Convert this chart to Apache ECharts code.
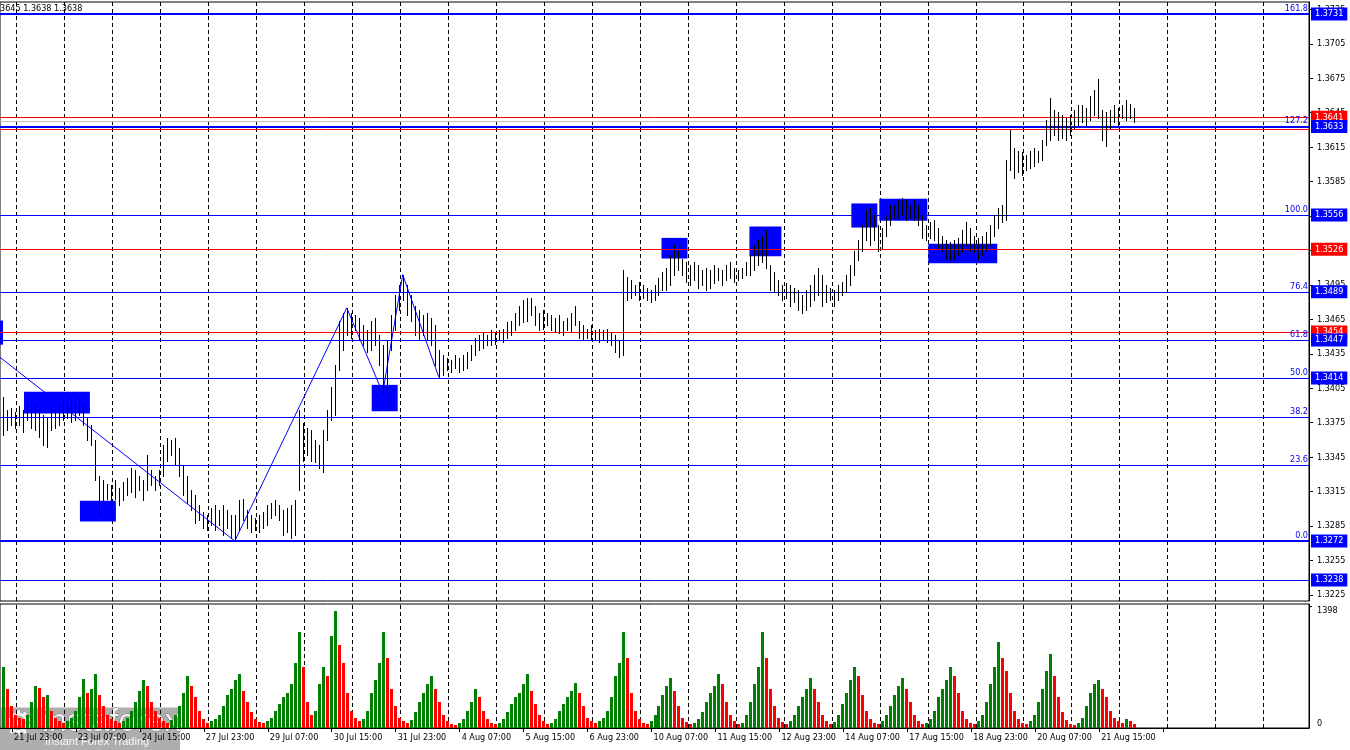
<!DOCTYPE html>
<html><head><meta charset="utf-8">
<script src="https://cdn.jsdelivr.net/npm/echarts/dist/echarts.min.js"></script>
<style>html,body{margin:0;padding:0;background:#fff;overflow:hidden}#c{width:1350px;height:750px}</style>
</head><body><div id="c"></div><script>
// ---- data (2-hour bars) ----
const highs = [
1.3397,1.3386,1.3388,1.3384,1.3390,1.3386,1.3392,1.3386,1.3390,1.3386,
1.3382,1.3379,1.3388,1.3386,1.3390,1.3395,1.3392,1.3396,1.3392,1.3396,
1.3390,1.3379,1.3373,1.3360,1.3329,1.3325,1.3322,1.3321,1.3325,1.3318,
1.3323,1.3327,1.3336,1.3334,1.3329,1.3325,1.3347,1.3334,1.3329,1.3334,
1.3356,1.3362,1.3360,1.3362,1.3353,1.3338,1.3329,1.3316,1.3312,1.3303,
1.3297,1.3295,1.3301,1.3303,1.3299,1.3303,1.3299,1.3295,1.3295,1.3308,
1.3309,1.3299,1.3295,1.3292,1.3295,1.3297,1.3303,1.3305,1.3308,1.3303,
1.3299,1.3301,1.3303,1.3308,1.3386,1.3375,1.3370,1.3369,1.3360,1.3356,
1.3369,1.3386,1.3406,1.3425,1.3464,1.3471,1.3475,1.3471,1.3469,1.3466,
1.3460,1.3456,1.3464,1.3466,1.3451,1.3443,1.3447,1.3469,1.3486,1.3495,
1.3504,1.3495,1.3486,1.3477,1.3473,1.3469,1.3471,1.3466,1.3460,1.3438,
1.3434,1.3431,1.3430,1.3434,1.3431,1.3434,1.3437,1.3443,1.3449,1.3451,
1.3454,1.3451,1.3456,1.3454,1.3456,1.3457,1.3463,1.3464,1.3471,1.3477,
1.3482,1.3484,1.3484,1.3477,1.3471,1.3473,1.3471,1.3469,1.3466,1.3469,
1.3464,1.3466,1.3471,1.3477,1.3464,1.3460,1.3457,1.3460,1.3456,1.3457,
1.3456,1.3457,1.3454,1.3451,1.3447,1.3508,1.3502,1.3499,1.3495,1.3498,
1.3495,1.3492,1.3491,1.3495,1.3501,1.3506,1.3510,1.3521,1.3530,1.3525,
1.3518,1.3515,1.3512,1.3515,1.3512,1.3508,1.3510,1.3508,1.3512,1.3510,
1.3508,1.3512,1.3515,1.3510,1.3508,1.3510,1.3515,1.3521,1.3530,1.3534,
1.3538,1.3543,1.3512,1.3506,1.3499,1.3495,1.3497,1.3495,1.3492,1.3491,
1.3486,1.3491,1.3495,1.3504,1.3510,1.3504,1.3495,1.3492,1.3491,1.3495,
1.3498,1.3504,1.3512,1.3525,1.3534,1.3547,1.3560,1.3562,1.3556,1.3547,
1.3545,1.3556,1.3565,1.3565,1.3569,1.3571,1.3569,1.3565,1.3569,1.3565,
1.3556,1.3547,1.3550,1.3552,1.3545,1.3538,1.3534,1.3532,1.3534,1.3536,
1.3543,1.3550,1.3545,1.3538,1.3536,1.3538,1.3541,1.3547,1.3556,1.3562,
1.3565,1.3604,1.3630,1.3614,1.3612,1.3611,1.3608,1.3612,1.3614,1.3612,
1.3621,1.3639,1.3658,1.3647,1.3646,1.3643,1.3640,1.3643,1.3647,1.3652,
1.3652,1.3649,1.3660,1.3665,1.3674,1.3647,1.3646,1.3647,1.3652,1.3649,
1.3652,1.3656,1.3653,1.3649];
const lows = [
1.3364,1.3369,1.3373,1.3370,1.3373,1.3367,1.3377,1.3370,1.3369,1.3363,
1.3356,1.3354,1.3369,1.3370,1.3373,1.3377,1.3379,1.3376,1.3377,1.3382,
1.3373,1.3360,1.3356,1.3325,1.3296,1.3308,1.3309,1.3306,1.3309,1.3303,
1.3308,1.3312,1.3315,1.3310,1.3316,1.3308,1.3316,1.3321,1.3316,1.3321,
1.3329,1.3342,1.3347,1.3338,1.3329,1.3312,1.3305,1.3299,1.3288,1.3290,
1.3283,1.3282,1.3286,1.3282,1.3286,1.3277,1.3283,1.3275,1.3272,1.3282,
1.3290,1.3283,1.3280,1.3282,1.3280,1.3283,1.3286,1.3292,1.3295,1.3290,
1.3277,1.3280,1.3275,1.3277,1.3316,1.3342,1.3347,1.3342,1.3341,1.3336,
1.3332,1.3360,1.3377,1.3382,1.3421,1.3438,1.3451,1.3449,1.3456,1.3447,
1.3443,1.3437,1.3438,1.3443,1.3425,1.3401,1.3403,1.3438,1.3456,1.3473,
1.3482,1.3469,1.3464,1.3451,1.3447,1.3451,1.3447,1.3443,1.3425,1.3415,
1.3417,1.3421,1.3419,1.3423,1.3419,1.3421,1.3423,1.3430,1.3434,1.3438,
1.3440,1.3443,1.3443,1.3444,1.3447,1.3445,1.3449,1.3451,1.3456,1.3460,
1.3463,1.3464,1.3469,1.3460,1.3456,1.3457,1.3460,1.3456,1.3454,1.3453,
1.3451,1.3456,1.3454,1.3460,1.3449,1.3447,1.3449,1.3447,1.3447,1.3445,
1.3447,1.3445,1.3443,1.3437,1.3432,1.3434,1.3482,1.3484,1.3486,1.3482,
1.3484,1.3482,1.3480,1.3482,1.3486,1.3491,1.3491,1.3495,1.3504,1.3508,
1.3504,1.3498,1.3495,1.3499,1.3492,1.3495,1.3491,1.3492,1.3497,1.3499,
1.3495,1.3499,1.3501,1.3498,1.3499,1.3501,1.3504,1.3504,1.3508,1.3512,
1.3515,1.3510,1.3491,1.3489,1.3486,1.3482,1.3484,1.3477,1.3480,1.3473,
1.3471,1.3473,1.3477,1.3482,1.3486,1.3477,1.3480,1.3482,1.3477,1.3482,
1.3486,1.3489,1.3495,1.3504,1.3517,1.3525,1.3534,1.3530,1.3534,1.3525,
1.3527,1.3538,1.3547,1.3553,1.3553,1.3556,1.3552,1.3553,1.3552,1.3547,
1.3536,1.3534,1.3536,1.3534,1.3527,1.3525,1.3518,1.3517,1.3518,1.3521,
1.3524,1.3530,1.3525,1.3524,1.3518,1.3521,1.3525,1.3530,1.3538,1.3545,
1.3550,1.3552,1.3595,1.3588,1.3593,1.3591,1.3595,1.3597,1.3599,1.3602,
1.3604,1.3617,1.3621,1.3626,1.3621,1.3623,1.3621,1.3626,1.3632,1.3634,
1.3637,1.3634,1.3639,1.3643,1.3640,1.3621,1.3616,1.3632,1.3637,1.3634,
1.3640,1.3639,1.3640,1.3637];
const volumes = [
700,450,250,150,120,100,150,300,480,460,
350,380,200,120,80,60,80,120,200,350,
560,400,450,620,380,250,150,100,80,60,
80,120,200,300,420,550,480,300,200,120,
80,60,90,150,250,400,600,480,350,200,
100,60,80,100,150,250,380,450,550,620,
420,300,180,100,70,60,80,120,200,280,
350,400,500,750,1100,700,300,150,200,500,
700,600,1050,1340,950,750,400,200,120,80,
100,200,400,550,750,1100,800,450,250,120,
80,60,90,180,300,400,500,600,450,300,
150,80,50,40,60,100,200,300,450,350,
200,100,60,50,60,100,180,280,350,400,
500,620,420,280,150,80,50,60,100,200,
280,350,420,520,400,250,120,80,60,80,
120,200,350,600,750,1100,800,400,200,100,
60,50,80,150,250,380,480,570,420,250,
120,70,50,60,100,180,300,400,480,620,
500,300,150,80,50,60,150,300,500,700,
1100,800,450,250,120,70,50,80,150,250,
350,450,570,450,300,150,80,50,70,150,
280,400,550,700,600,380,200,100,60,50,
80,150,250,380,480,570,450,300,150,80,
50,60,100,200,350,450,550,700,600,400,
200,100,60,50,80,150,300,500,700,980,
800,650,400,200,100,60,50,80,150,300,
450,650,850,600,350,180,90,50,40,60,
120,250,400,500,550,450,350,200,120,80,
60,100,80,50];
const timeLabels = ['21 Jul 23:00','23 Jul 07:00','24 Jul 15:00','27 Jul 23:00','29 Jul 07:00','30 Jul 15:00',
 '31 Jul 23:00','4 Aug 07:00','5 Aug 15:00','6 Aug 23:00','10 Aug 07:00','11 Aug 15:00','12 Aug 23:00',
 '14 Aug 07:00','17 Aug 15:00','18 Aug 23:00','20 Aug 07:00','21 Aug 15:00'];
const priceTicks = [1.3225,1.3255,1.3285,1.3315,1.3345,1.3375,1.3405,1.3435,1.3465,1.3495,1.3525,1.3555,1.3585,1.3615,1.3645,1.3675,1.3705,1.3735];
const volumeTicks = [0, 1398];
const fibPrices = [1.3731,1.3633,1.3556,1.3489,1.3447,1.3414,1.3380,1.3338,1.3272];
const fibLabels = ['161.8','127.2','100.0','76.4','61.8','50.0','38.2','23.6','0.0'];
const redPrices = [1.3641,1.3631,1.3526,1.3454];
const bluePrices = [1.3238];
const bidPrice = 1.3638;
const tagPrices = [1.3731,1.3641,1.3633,1.3556,1.3526,1.3489,1.3454,1.3447,1.3414,1.3272,1.3238];
const thickPrices = [1.3731,1.3633,1.3272];
const zoneX1 = [-0.75,5.25,19.25,92.25,164.75,186.75,212.25,219.25,231.5];
const zoneX2 = [0,21.75,28.25,98.75,171.25,194.75,218.75,231.25,248.75];
const zoneTop = [1.3464,1.3402,1.3307,1.3408,1.3536,1.3546,1.3566,1.3570,1.3531];
const zoneBottom = [1.3443,1.3383,1.3289,1.3385,1.3518,1.3520,1.3545,1.3551,1.3514];
const trendX = [-0.75,58,86,95,100,109];
const trendY = [1.3432,1.3272,1.3475,1.3401,1.3504,1.3415];
const headerText = '3645 1.3638 1.3638';

// ---- layout ----
const XMIN = -0.75, XMAX = 326.75;
const FONT = '"DejaVu Sans Condensed","Liberation Sans",sans-serif';
const FS = 9;
const BLUE = '#0000ff', RED = '#ff0000';
const gridPos = []; for (let k = 0; k < 28; k++) gridPos.push(3.375 + 12 * k);
const labelPos = timeLabels.map((t, k) => 2.25 + 16 * k);
const tickPos = labelPos.concat([2.25 + 16 * timeLabels.length]);
const labelMap = new Map(labelPos.map((p, k) => [p, timeLabels[k]]));

const barData = highs.map((h, i) => [i, h, lows[i]]);
const volData = volumes.map((v, i) => [i, v, (i === 0 || v >= volumes[i - 1]) ? 1 : 0]);

const vGrid = gridPos.map(v => ({ xAxis: v }));
const zoneData = zoneX1.map((x, k) => [{ xAxis: x, yAxis: zoneTop[k] }, { xAxis: zoneX2[k], yAxis: zoneBottom[k] }]);

function tagLabel(p, color) {
  return { show: true, position: 'end', distance: 2, formatter: p.toFixed(4), color: '#fff',
    backgroundColor: color, padding: [1, 4, 1, 4], lineHeight: 11, fontSize: FS, fontFamily: FONT };
}
const levelData = [];
redPrices.forEach(p => levelData.push({ yAxis: p, lineStyle: { color: RED, width: 1, type: 'solid' },
  label: tagPrices.includes(p) ? tagLabel(p, RED) : { show: false } }));
levelData.push({ yAxis: bidPrice, lineStyle: { color: '#c0c0c0', width: 1, type: 'solid' }, label: { show: false } });
fibPrices.concat(bluePrices).forEach(p => levelData.push({ yAxis: p,
  lineStyle: { color: BLUE, width: thickPrices.includes(p) ? 2 : 1, type: 'solid' },
  label: tagPrices.includes(p) ? tagLabel(p, BLUE) : { show: false } }));
fibPrices.forEach((p, k) => levelData.push({ yAxis: p, lineStyle: { color: BLUE, width: thickPrices.includes(p) ? 2 : 1, type: 'solid' },
  label: { show: true, position: 'insideEndTop', distance: 1, formatter: fibLabels[k], color: BLUE, fontSize: FS, fontFamily: FONT } }));

const chart = echarts.init(document.getElementById('c'), null, { renderer: 'canvas' });
const option = {
  animation: false,
  backgroundColor: '#fff',
  textStyle: { fontFamily: FONT },
  grid: [
    { left: -1, top: 2, width: 1310, height: 599, show: true, borderColor: '#000', borderWidth: 1, backgroundColor: 'transparent' },
    { left: -1, top: 604, width: 1310, height: 124, show: true, borderColor: '#000', borderWidth: 1, backgroundColor: 'transparent' }
  ],
  xAxis: [
    { type: 'value', gridIndex: 0, min: XMIN, max: XMAX, show: false },
    { type: 'value', gridIndex: 1, min: XMIN, max: XMAX, splitLine: { show: false },
      axisLine: { show: true, onZero: false, lineStyle: { color: '#000' } },
      axisTick: { show: true, customValues: tickPos, length: 4, lineStyle: { color: '#000' } },
      axisLabel: { customValues: labelPos, formatter: v => labelMap.get(v) || '', align: 'left', margin: 5,
        padding: [0, 0, 0, 2], color: '#000', fontSize: FS, fontFamily: FONT } }
  ],
  yAxis: [
    { type: 'value', gridIndex: 0, position: 'right', min: 1.321974, max: 1.374145, splitLine: { show: false },
      axisLine: { show: true, onZero: false, lineStyle: { color: '#000' } },
      axisTick: { show: true, customValues: priceTicks, length: 4, lineStyle: { color: '#000' } },
      axisLabel: { customValues: priceTicks, formatter: v => v.toFixed(4), margin: 8, color: '#000', fontSize: FS, fontFamily: FONT } },
    { type: 'value', gridIndex: 1, position: 'right', min: 0, max: 1421, splitLine: { show: false },
      axisLine: { show: true, onZero: false, lineStyle: { color: '#000' } },
      axisTick: { show: true, customValues: [volumeTicks[1]], length: 3, lineStyle: { color: '#000' } },
      axisLabel: { customValues: [volumeTicks[1]], formatter: v => String(Math.round(v)), verticalAlign: 'top', margin: 8, color: '#000', fontSize: FS, fontFamily: FONT } },
    { type: 'value', gridIndex: 1, position: 'right', min: 0, max: 1421, splitLine: { show: false },
      axisLine: { show: false },
      axisTick: { show: true, customValues: [volumeTicks[0]], length: 3, lineStyle: { color: '#000' } },
      axisLabel: { customValues: [volumeTicks[0]], formatter: v => String(Math.round(v)), verticalAlign: 'bottom', margin: 8, color: '#000', fontSize: FS, fontFamily: FONT } }
  ],
  series: [
    { type: 'line', xAxisIndex: 0, yAxisIndex: 0, data: [], silent: true,
      markLine: { silent: true, z: 2, precision: 4, symbol: ['none', 'none'], animation: false, label: { show: false },
        lineStyle: { color: '#000', width: 1, type: [4, 3] }, emphasis: { disabled: true }, data: vGrid } },
    { type: 'line', xAxisIndex: 1, yAxisIndex: 1, data: [], silent: true,
      markLine: { silent: true, z: 2, precision: 4, symbol: ['none', 'none'], animation: false, label: { show: false },
        lineStyle: { color: '#000', width: 1, type: [4, 3] }, emphasis: { disabled: true }, data: vGrid } },
    { type: 'line', xAxisIndex: 0, yAxisIndex: 0, data: [], silent: true,
      markArea: { silent: true, z: 3, precision: 4, itemStyle: { color: BLUE, opacity: 1 }, label: { show: false }, emphasis: { disabled: true }, data: zoneData } },
    { type: 'line', xAxisIndex: 0, yAxisIndex: 0, data: [], silent: true,
      markLine: { silent: true, z: 4, precision: 4, symbol: ['none', 'none'], animation: false, emphasis: { disabled: true }, data: levelData } },
    { type: 'line', xAxisIndex: 0, yAxisIndex: 0, z: 5, silent: true, symbol: 'none', clip: true,
      lineStyle: { color: BLUE, width: 1 }, data: trendX.map((x, k) => [x, trendY[k]]) },
    { type: 'custom', xAxisIndex: 0, yAxisIndex: 0, z: 10, silent: true, clip: true,
      encode: { x: 0, y: [1, 2] }, data: barData,
      renderItem: (params, api) => {
        const a = api.coord([api.value(0), api.value(1)]);
        const b = api.coord([api.value(0), api.value(2)]);
        const x = Math.round(a[0]) + 0.5;
        return { type: 'line', shape: { x1: x, y1: Math.round(a[1]), x2: x, y2: Math.round(b[1]) + 1 },
          style: { stroke: '#000', lineWidth: 1 } };
      } },
    { type: 'custom', xAxisIndex: 1, yAxisIndex: 1, z: 10, silent: true, clip: true,
      encode: { x: 0, y: 1 }, data: volData,
      renderItem: (params, api) => {
        const a = api.coord([api.value(0), api.value(1)]);
        const b = api.coord([api.value(0), 0]);
        const x = Math.round(a[0]) - 1;
        return { type: 'rect', shape: { x: x, y: Math.round(a[1]), width: 3, height: Math.round(b[1]) - Math.round(a[1]) },
          style: { fill: api.value(2) ? '#008000' : '#ff0000' } };
      } }
  ],
  graphic: [
    { type: 'text', left: 0, top: 4, z: 50, style: { text: headerText, fill: '#000', font: FS + 'px ' + FONT } },
    { type: 'group', left: 0, top: 706, z: 100, children: [
      { type: 'rect', shape: { x: 0, y: 0, width: 180, height: 44 }, style: { fill: 'rgba(120,120,120,0.6)' } },
      { type: 'text', x: 3, y: 2, style: { text: '\u2699', fill: 'rgba(255,255,255,0.85)', font: '34px "DejaVu Sans"' } },
      { type: 'text', x: 42, y: -1, style: { text: 'instaforex', fill: 'rgba(255,255,255,0.85)', stroke: 'rgba(90,90,90,0.6)', lineWidth: 1, font: '32px "Liberation Sans"' } },
      { type: 'text', x: 45, y: 29, style: { text: 'Instant Forex Trading', fill: 'rgba(255,255,255,0.9)', font: '11px "Liberation Sans"' } }
    ] }
  ]
};
chart.setOption(option);
</script></body></html>
